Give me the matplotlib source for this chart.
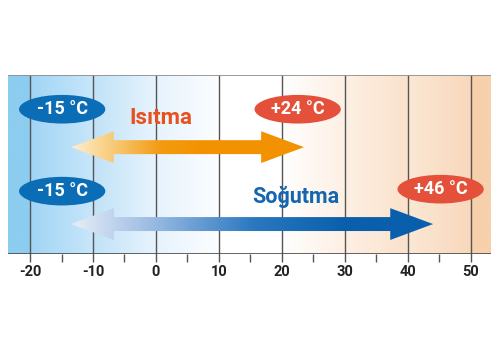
import numpy as np
import matplotlib.pyplot as plt
from matplotlib.patches import Ellipse, Polygon
from matplotlib.colors import LinearSegmentedColormap

# temperature axis
x_min, x_max = -23.5, 53.2
major_ticks = [-20, -10, 0, 10, 20, 30, 40, 50]
minor_ticks = [-15, -5, 5, 15, 25, 35, 45]

# operating ranges (deg C)
heat_range = (-15, 24)
cool_range = (-15, 46)
heat_label = "Isıtma"
cool_label = "Soğutma"

# background bands: (start, end, left colour, right colour)
bands = [
    (-23.5, -20, (140, 205, 240), (140, 205, 240)),
    (-20, -10, (160, 213, 245), (200, 230, 250)),
    (-10, 0, (192, 226, 248), (232, 244, 253)),
    (0, 10, (230, 243, 253), (252, 254, 255)),
    (10, 20, (255, 255, 255), (255, 255, 255)),
    (20, 30, (255, 255, 255), (253, 240, 228)),
    (30, 40, (253, 240, 228), (250, 226, 204)),
    (40, 50, (251, 232, 213), (248, 216, 188)),
    (50, 53.2, (247, 208, 172), (247, 208, 172)),
]

fig = plt.figure(figsize=(5, 3.5), dpi=100)
ax = fig.add_axes([0.016, 0.274, 0.966, 0.511])
ax.set_xlim(x_min, x_max)
ax.set_ylim(0, 1)

xs = np.linspace(x_min, x_max, 1200)
bg = np.ones((1, len(xs), 3))
for a, b, c0, c1 in bands:
    m = (xs >= a) & (xs <= b)
    t = (xs[m] - a) / (b - a)
    for k in range(3):
        bg[0, m, k] = (c0[k] + (c1[k] - c0[k]) * t) / 255
ax.imshow(bg, extent=[x_min, x_max, 0, 1], aspect="auto", zorder=0)

# grid lines run a little below the axis
ax.vlines(major_ticks, -0.045, 1, colors="#555555", lw=1, clip_on=False, zorder=1)
ax.vlines(minor_ticks, -0.045, 0, colors="#555555", lw=1, clip_on=False, zorder=1)
ax.axhline(1, color="#8a8a8a", lw=1.2, zorder=1)
ax.axhline(0, color="#4a4a4a", lw=1.2, zorder=1)

for s in ax.spines.values():
    s.set_visible(False)
ax.set_yticks([])
ax.set_xticks(major_ticks)
ax.set_xticklabels([str(t) for t in major_ticks], fontsize=10.5,
                   fontweight="bold", family="Roboto", color="#222222")
ax.tick_params(axis="x", length=0, pad=8)


def arrow(lo, hi, yc, cmap, x_solid):
    head = 6.8
    sh, hh = 0.039, 0.089
    pts = [(lo, yc), (lo + head, yc + hh), (lo + head, yc + sh),
           (hi - head, yc + sh), (hi - head, yc + hh), (hi, yc),
           (hi - head, yc - hh), (hi - head, yc - sh),
           (lo + head, yc - sh), (lo + head, yc - hh)]
    poly = Polygon(pts, closed=True, fc="none", ec="none")
    ax.add_patch(poly)
    gx = np.linspace(lo, hi, 400)
    g = np.clip((gx - lo) / (x_solid - lo), 0, 1)[None, :]
    im = ax.imshow(g, extent=[lo, hi, yc - hh, yc + hh], aspect="auto",
                   cmap=cmap, vmin=0, vmax=1, zorder=3)
    im.set_clip_path(poly)


heat_cmap = LinearSegmentedColormap.from_list(
    "heat", ["#fdf0d0", "#f8c770", "#f39a10", "#f39200"])
cool_cmap = LinearSegmentedColormap.from_list(
    "cool", ["#e8eef8", "#8fb4df", "#2a78c0", "#0a5fac"])
arrow(heat_range[0] + 1.5, heat_range[1] - 0.5, 0.598, heat_cmap, 8)
arrow(cool_range[0] + 1.5, cool_range[1] - 2, 0.168, cool_cmap, 30)


def badge(x, y, value, color):
    ax.add_patch(Ellipse((x, y), 13.7, 0.16, fc=color, ec="none", zorder=4))
    ax.text(x, y, f"{value:+d} °C".replace("+-", "-"), ha="center",
            va="center", color="white", fontsize=13, fontweight="bold",
            family="Roboto", zorder=5)


badge(-14.9, 0.81, heat_range[0], "#0b6db5")
badge(-14.9, 0.352, cool_range[0], "#0b6db5")
badge(22.5, 0.81, heat_range[1], "#e4503a")
badge(45.2, 0.363, cool_range[1], "#e4503a")

ax.text(0.8, 0.76, heat_label, ha="center", va="center", color="#e8501e",
        fontsize=16, fontweight="bold", family="Roboto", zorder=5)
ax.text(22.2, 0.318, cool_label, ha="center", va="center", color="#1565b0",
        fontsize=15.5, fontweight="bold", family="Roboto", zorder=5)

fig.savefig("out.png", dpi=100)
